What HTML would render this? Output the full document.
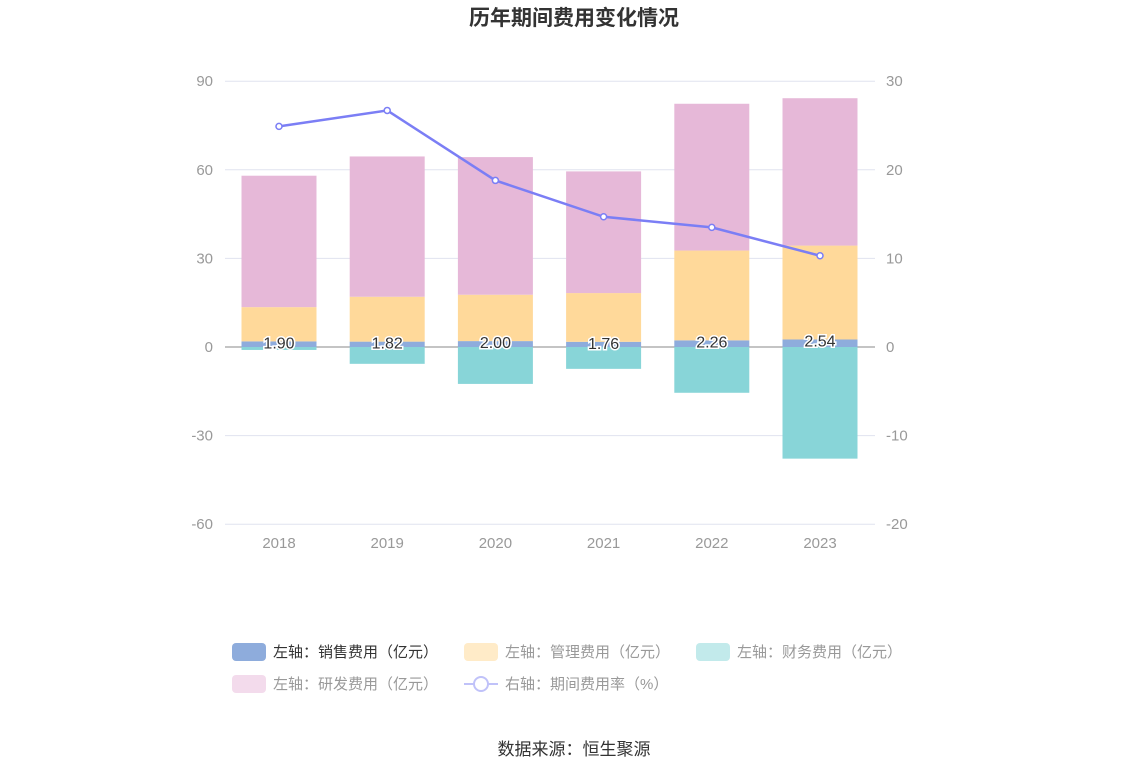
<!DOCTYPE html>
<html><head><meta charset="utf-8"><style>
body{margin:0;background:#fff;width:1148px;height:776px;overflow:hidden;font-family:"Liberation Sans","Noto Sans CJK SC",sans-serif}
</style></head><body>
<svg width="1148" height="776" id="chart" font-family="Liberation Sans, Noto Sans CJK SC, sans-serif">
<text x="574" y="25" text-anchor="middle" font-size="21" font-weight="bold" fill="#333">历年期间费用变化情况</text>
<g id="grid"></g><g id="bars"></g><g id="line"></g><g id="labels"></g>
<g font-size="15">
<g><rect x="232" y="643" width="34" height="18" rx="4" fill="#8eacdc"/><text x="273" y="657" fill="#333">左轴：销售费用（亿元）</text></g>
<g><rect x="464" y="643" width="34" height="18" rx="4" fill="#ffebc8"/><text x="505" y="657" fill="#999">左轴：管理费用（亿元）</text></g>
<g><rect x="696" y="643" width="34" height="18" rx="4" fill="#c2eaeb"/><text x="737" y="657" fill="#999">左轴：财务费用（亿元）</text></g>
<g><rect x="232" y="675" width="34" height="18" rx="4" fill="#f3dbec"/><text x="273" y="689" fill="#999">左轴：研发费用（亿元）</text></g>
<g><line x1="464" y1="684" x2="498" y2="684" stroke="#c0c2f9" stroke-width="2"/><circle cx="481" cy="684" r="7" fill="#fff" stroke="#c0c2f9" stroke-width="2"/><text x="505" y="689" fill="#999">右轴：期间费用率（%）</text></g>
</g>
<text x="574" y="755" text-anchor="middle" font-size="17" fill="#333">数据来源：恒生聚源</text>
</svg>
<script>
const years=["2018","2019","2020","2021","2022","2023"];
const sales=[1.90,1.82,2.00,1.76,2.26,2.54];
const mgmt=[11.6,15.2,15.7,16.5,30.4,31.8];
const rnd=[44.5,47.5,46.6,41.2,49.7,49.9];
const fin=[-1.0,-5.7,-12.5,-7.4,-15.5,-37.8];
const rate=[24.9,26.7,18.8,14.7,13.5,10.3];
const leftTicks=[90,60,30,0,-30,-60];
const rightTicks=[30,20,10,0,-10,-20];
const NS="http://www.w3.org/2000/svg";
const yL=v=>347-v*(443/150);
const yR=v=>347-v*(443/50);
const xC=i=>279+i*108.2;
function mk(tag,attrs,parent){const e=document.createElementNS(NS,tag);for(const k in attrs)e.setAttribute(k,attrs[k]);document.getElementById(parent).appendChild(e);return e;}
leftTicks.forEach((t,i)=>{
 const l=mk('line',{x1:225,x2:875,y1:yL(t),y2:yL(t),stroke:t===0?'#888':'#e0e3ef','stroke-width':1},'grid');
 
 
 const a=mk('text',{x:213,y:yL(t)+5,'text-anchor':'end','font-size':15,fill:'#999'},'grid');a.textContent=t;
 
 
 const r=mk('text',{x:886,y:yR(rightTicks[i])+5,'font-size':15,fill:'#999'},'grid');r.textContent=rightTicks[i];
 
 
});
years.forEach((y,i)=>{
 const t=mk('text',{x:xC(i),y:548,'text-anchor':'middle','font-size':15,fill:'#999'},'grid');t.textContent=y;
 
 
 const w=75,x=xC(i)-w/2;
 const segs=[[0,sales[i],'#8eacdc','bar-sales'],[sales[i],sales[i]+mgmt[i],'#ffd99a','bar-management'],[sales[i]+mgmt[i],sales[i]+mgmt[i]+rnd[i],'#e6b8d8','bar-rnd'],[fin[i],0,'#88d5d8','bar-finance']];
 segs.forEach(s=>{
  const r=mk('rect',{x:x,y:yL(Math.max(s[0],s[1])),width:w,height:Math.abs(yL(s[0])-yL(s[1])),fill:s[2]},'bars');
  
  
 });
 const lb=mk('text',{x:xC(i),y:yL(sales[i])+7,'text-anchor':'middle','font-size':16,fill:'#333',stroke:'#fff','stroke-width':3,'paint-order':'stroke'},'labels');
 lb.textContent=sales[i].toFixed(2);
 
 
});
const pl=mk('polyline',{points:rate.map((v,i)=>xC(i)+','+yR(v)).join(' '),fill:'none',stroke:'#7b7ef5','stroke-width':2.5},'line');


rate.forEach((v,i)=>{
 const c=mk('circle',{cx:xC(i),cy:yR(v),r:3,fill:'#fff',stroke:'#7b7ef5','stroke-width':1.5},'line');
 
 
});
</script>
</body></html>
